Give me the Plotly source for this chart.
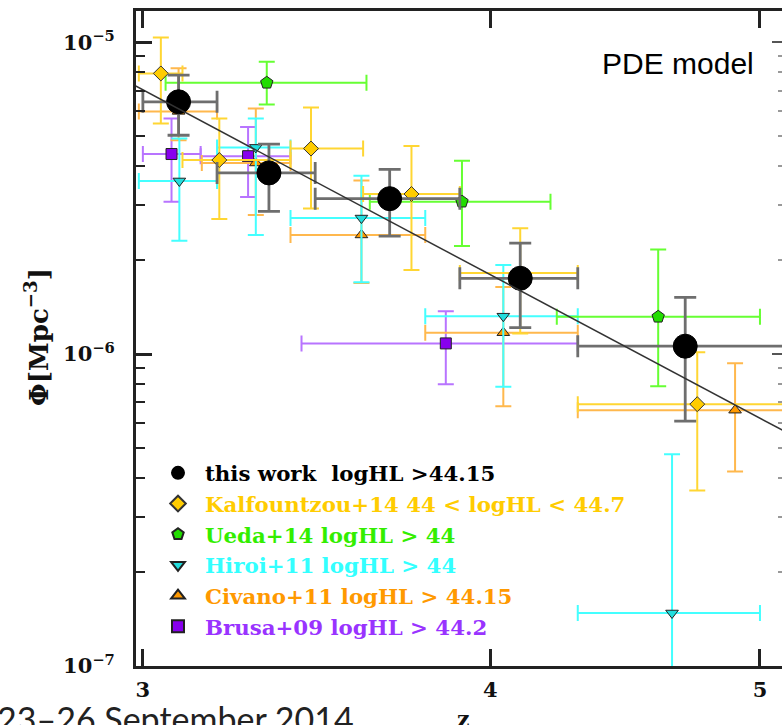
import math
import plotly.graph_objects as go

# ---- data: redshift z, space density phi [Mpc^-3], with bin edges and errors ----
this_z = [3.09, 3.33, 3.68, 4.10, 4.70]
this_phi = [6.44e-6, 3.81e-6, 3.15e-6, 1.75e-6, 1.06e-6]
this_z_lo = [3.00, 3.19, 3.46, 3.90, 4.30]
this_z_hi = [3.19, 3.46, 3.90, 4.30, 5.20]
this_phi_lo = [5.03e-6, 2.87e-6, 2.39e-6, 1.215e-6, 6.10e-7]
this_phi_hi = [7.84e-6, 4.71e-6, 3.91e-6, 2.27e-6, 1.52e-6]

kal_z = [3.045, 3.196, 3.448, 3.747, 4.10, 4.747]
kal_phi = [7.94e-6, 4.19e-6, 4.56e-6, 3.26e-6, 1.82e-6, 6.91e-7]
kal_z_lo = [2.99, 3.10, 3.39, 3.60, 3.90, 4.30]
kal_z_hi = [3.10, 3.39, 3.60, 3.90, 4.30, 5.20]
kal_phi_lo = [5.49e-6, 2.71e-6, 2.93e-6, 1.86e-6, 1.165e-6, 3.65e-7]
kal_phi_hi = [1.035e-5, 5.69e-6, 6.17e-6, 4.65e-6, 2.53e-6, 1.013e-6]

ueda_z = [3.324, 3.907, 4.596]
ueda_phi = [7.41e-6, 3.08e-6, 1.317e-6]
ueda_z_lo = [3.057, 3.62, 4.226]
ueda_z_hi = [3.61, 4.204, 5.00]
ueda_phi_lo = [6.31e-6, 2.22e-6, 7.89e-7]
ueda_phi_hi = [8.65e-6, 4.17e-6, 2.165e-6]

hiroi_z = [3.092, 3.294, 3.595, 4.043, 4.649]
hiroi_phi = [3.59e-6, 4.60e-6, 2.73e-6, 1.323e-6, 1.479e-7]
hiroi_z_lo = [2.99, 3.19, 3.39, 3.79, 4.30]
hiroi_z_hi = [3.19, 3.39, 3.79, 4.30, 5.00]
hiroi_phi_lo = [2.31e-6, 2.41e-6, 1.70e-6, 7.86e-7, 9.0e-8]
hiroi_phi_hi = [4.91e-6, 5.69e-6, 3.73e-6, 1.93e-6, 4.77e-7]

civ_z = [3.09, 3.294, 3.595, 4.043, 4.898]
civ_phi = [6.00e-6, 4.10e-6, 2.41e-6, 1.171e-6, 6.61e-7]
civ_z_lo = [2.99, 3.15, 3.39, 3.79, 4.30]
civ_z_hi = [3.19, 3.39, 3.79, 4.30, 5.20]
civ_phi_lo = [4.85e-6, 2.79e-6, 1.69e-6, 6.81e-7, 4.20e-7]
civ_phi_hi = [8.25e-6, 6.13e-6, 3.60e-6, 1.64e-6, 9.34e-7]

brusa_z = [3.072, 3.273, 3.855]
brusa_phi = [4.38e-6, 4.31e-6, 1.082e-6]
brusa_z_lo = [3.00, 3.147, 3.421]
brusa_z_hi = [3.147, 3.39, 4.30]
brusa_phi_lo = [3.08e-6, 3.19e-6, 8.01e-7]
brusa_phi_hi = [5.69e-6, 5.35e-6, 1.373e-6]

# PDE model curve (power law, straight in log-log)
model_z = [2.98, 5.10]
model_phi = [7.26e-6, 5.67e-7]

x_ticks = [3, 4, 5]
y_ticks = [1e-7, 1e-6, 1e-5]
y_tick_text = ["10<sup>−7</sup>", "10<sup>−6</sup>", "10<sup>−5</sup>"]

SERIF = "DejaVu Serif"

W, H = 782, 725
ML, MR, MT, MB = 136, 0, 11, 59
PW, PH = W - ML - MR, H - MT - MB


def px_x(p):
    return (p - ML) / PW


def px_y(p):
    return (H - MB - p) / PH


def series(name, z, phi, zlo, zhi, plo, phi_hi, symbol, size, fill, ebar, ewidth,
           ethick, line_color, rank):
    return go.Scatter(
        x=z, y=phi, mode="markers", name=name,
        legendgroup=name, legendrank=rank,
        marker=dict(symbol=symbol, size=size, color=fill,
                    line=dict(color=line_color, width=1)),
        error_x=dict(type="data", symmetric=False,
                     array=[h - v for h, v in zip(zhi, z)],
                     arrayminus=[v - l for v, l in zip(z, zlo)],
                     color=ebar, thickness=ethick, width=ewidth),
        error_y=dict(type="data", symmetric=False,
                     array=[h - v for h, v in zip(phi_hi, phi)],
                     arrayminus=[v - l for v, l in zip(phi, plo)],
                     color=ebar, thickness=ethick, width=ewidth),
    )


def label(text, color):
    return f'<span style="color:{color}">{text}</span>'


fig = go.Figure()

fig.add_trace(series(label("Brusa+09 logHL &gt; 44.2", "#9933FF"),
                     brusa_z, brusa_phi, brusa_z_lo, brusa_z_hi, brusa_phi_lo, brusa_phi_hi,
                     "square", 11, "#8800EE", "#B874FF", 8, 2, "#222222", 6))
fig.add_trace(series(label("Civano+11 logHL &gt; 44.15", "#FF9900"),
                     civ_z, civ_phi, civ_z_lo, civ_z_hi, civ_phi_lo, civ_phi_hi,
                     "triangle-up", 11, "#FF9900", "#FFB84D", 8, 2, "#222222", 5))
fig.add_trace(series(label("Hiroi+11 logHL &gt; 44", "#33FFFF"),
                     hiroi_z, hiroi_phi, hiroi_z_lo, hiroi_z_hi, hiroi_phi_lo, hiroi_phi_hi,
                     "triangle-down", 11, "#22DDDD", "#44FFFF", 8, 2, "#222222", 4))
fig.add_trace(series(label("Ueda+14 logHL &gt; 44", "#33EE00"),
                     ueda_z, ueda_phi, ueda_z_lo, ueda_z_hi, ueda_phi_lo, ueda_phi_hi,
                     "pentagon", 13, "#22DD00", "#66FF33", 8, 2, "#222222", 3))
fig.add_trace(series(label("Kalfountzou+14 44 &lt; logHL &lt; 44.7", "#FFCC00"),
                     kal_z, kal_phi, kal_z_lo, kal_z_hi, kal_phi_lo, kal_phi_hi,
                     "diamond", 11.5, "#FFCC00", "#FFD633", 8, 2, "#333333", 2))
fig.add_trace(go.Scatter(x=model_z, y=model_phi, mode="lines", yaxis="y2",
                         line=dict(color="#333333", width=1.5), showlegend=False,
                         hoverinfo="skip"))
fig.add_trace(series(label("this work\u00a0\u00a0logHL &gt;44.15", "#000000"),
                     this_z, this_phi, this_z_lo, this_z_hi, this_phi_lo, this_phi_hi,
                     "circle", 24, "#000000", "#6E6E6E", 11, 2.8, "#000000", 1))

yrange = [-7, -4.9]
xrange = [math.log10(2.983), math.log10(5.092)]
minor_vals = [m * 10 ** e for e in (-7, -6, -5) for m in range(2, 10)]

fig.update_layout(
    width=W, height=H,
    margin=dict(l=ML, r=MR, t=MT, b=MB, pad=0),
    paper_bgcolor="white", plot_bgcolor="white",
    showlegend=True,
    legend=dict(
        x=px_x(151), y=px_y(452.5), xanchor="left", yanchor="top",
        bgcolor="rgba(0,0,0,0)", borderwidth=0,
        font=dict(family=SERIF, size=21.3, color="black", weight="bold"),
        itemsizing="constant", itemwidth=44, traceorder="grouped", tracegroupgap=0,
        itemclick=False, itemdoubleclick=False,
    ),
    xaxis=dict(
        type="log", range=xrange,
        tickvals=x_ticks, ticktext=[str(v) for v in x_ticks],
        ticks="inside", ticklen=17, tickwidth=2.5, tickcolor="#222222",
        showline=True, linewidth=3, linecolor="#222222", mirror="ticks",
        showgrid=False, zeroline=False,
        tickfont=dict(family=SERIF, size=21, color="#111111", weight="bold"),
        ticklabelstandoff=3,
    ),
    yaxis=dict(
        type="log", range=yrange,
        tickvals=y_ticks, ticktext=y_tick_text,
        ticks="inside", ticklen=16, tickwidth=2.5, tickcolor="#222222",
        minor=dict(tickvals=minor_vals, ticks="inside", ticklen=9, tickwidth=2,
                   tickcolor="#222222", showgrid=False),
        showline=True, linewidth=3, linecolor="#222222", mirror=False,
        showgrid=False, zeroline=False,
        tickfont=dict(family=SERIF, size=21, color="#111111", weight="bold"),
        ticklabelstandoff=14,
    ),
    yaxis2=dict(
        type="log", range=yrange, overlaying="y", side="right",
        tickvals=y_ticks, showticklabels=False,
        ticks="inside", ticklen=10, tickwidth=2, tickcolor="#555555",
        minor=dict(tickvals=minor_vals, ticks="inside", ticklen=4, tickwidth=1.5,
                   tickcolor="#999999", showgrid=False),
        showline=False, showgrid=False, zeroline=False,
    ),
)

fig.add_annotation(
    text="Φ[Mpc<sup>−3</sup>]", textangle=-90,
    xref="paper", yref="paper", x=px_x(37), y=px_y(337),
    xanchor="center", yanchor="middle", showarrow=False,
    font=dict(family=SERIF, size=26, color="#111111", weight="bold"),
)
fig.add_annotation(
    text="z", xref="paper", yref="paper", x=px_x(463), y=px_y(719),
    xanchor="center", yanchor="middle", showarrow=False,
    font=dict(family=SERIF, size=22, color="#111111", weight="bold"),
)
fig.add_annotation(
    text="PDE model", xref="paper", yref="paper", x=px_x(678), y=px_y(63),
    xanchor="center", yanchor="middle", showarrow=False,
    font=dict(family="Liberation Sans", size=30, color="#000000"),
)
fig.add_annotation(
    text="23–26 September 2014", xref="paper", yref="paper",
    x=px_x(-5), y=px_y(696), xanchor="left", yanchor="top", showarrow=False,
    font=dict(family="Lato", size=34, color="#222222"),
)

fig.write_html("out.html")
